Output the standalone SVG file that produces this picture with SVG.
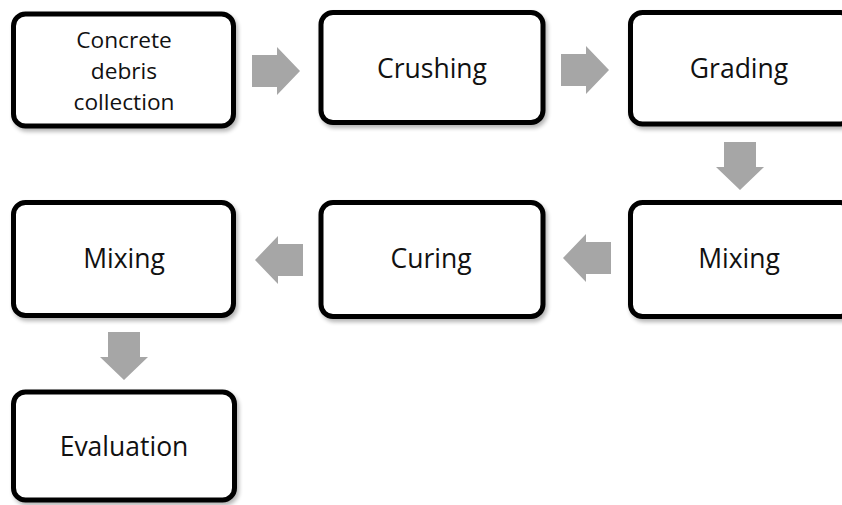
<svg xmlns="http://www.w3.org/2000/svg" width="842" height="505" viewBox="0 0 842 505">
<defs>
<filter id="sh" x="-10%" y="-10%" width="130%" height="130%">
<feGaussianBlur in="SourceAlpha" stdDeviation="2"/>
<feOffset dx="2" dy="3" result="b"/>
<feComponentTransfer><feFuncA type="linear" slope="0.3"/></feComponentTransfer>
<feMerge><feMergeNode/><feMergeNode in="SourceGraphic"/></feMerge>
</filter>
<path id="arR" d="M0,-16 H25 V-24 L48,0 L25,24 V16 H0 Z"/>
</defs>
<style>
.box{fill:#ffffff;stroke:#000000;stroke-width:5;filter:url(#sh)}
.lbl{font-family:"Open Sans","Liberation Sans",sans-serif;font-size:26.5px;fill:#111111;text-anchor:middle}
.ml{font-size:22.7px}
.arr{fill:#a6a6a6}
</style>
<rect width="842" height="505" fill="#ffffff"/>
<g id="connectors">
<use href="#arR" class="arr" transform="translate(252,71)"/>
<use href="#arR" class="arr" transform="translate(561,70)"/>
<use href="#arR" class="arr" transform="translate(740,142) rotate(90)"/>
<use href="#arR" class="arr" transform="translate(611,258) rotate(180)"/>
<use href="#arR" class="arr" transform="translate(303,260) rotate(180)"/>
<use href="#arR" class="arr" transform="translate(124,332) rotate(90)"/>
</g>
<g id="n1"><rect class="box" x="13.5" y="14" width="220" height="112" rx="12"/>
<text class="lbl ml" x="124" y="48">Concrete</text><text class="lbl ml" x="124" y="79">debris</text><text class="lbl ml" x="124" y="110">collection</text></g>
<g id="n2"><rect class="box" x="321" y="12.5" width="222" height="110" rx="12"/>
<text class="lbl" x="432" y="78">Crushing</text></g>
<g id="n3"><rect class="box" x="630.5" y="12.5" width="222" height="111.5" rx="12"/>
<text class="lbl" x="739" y="78">Grading</text></g>
<g id="n4"><rect class="box" x="630.5" y="202.5" width="222" height="114" rx="12"/>
<text class="lbl" x="739" y="268">Mixing</text></g>
<g id="n5"><rect class="box" x="321" y="202.5" width="222" height="114" rx="12"/>
<text class="lbl" x="431" y="268">Curing</text></g>
<g id="n6"><rect class="box" x="13.5" y="202.5" width="220" height="113" rx="12"/>
<text class="lbl" x="124" y="268">Mixing</text></g>
<g id="n7"><rect class="box" x="13.5" y="392" width="221" height="108" rx="12"/>
<text class="lbl" x="124" y="456">Evaluation</text></g>
</svg>
